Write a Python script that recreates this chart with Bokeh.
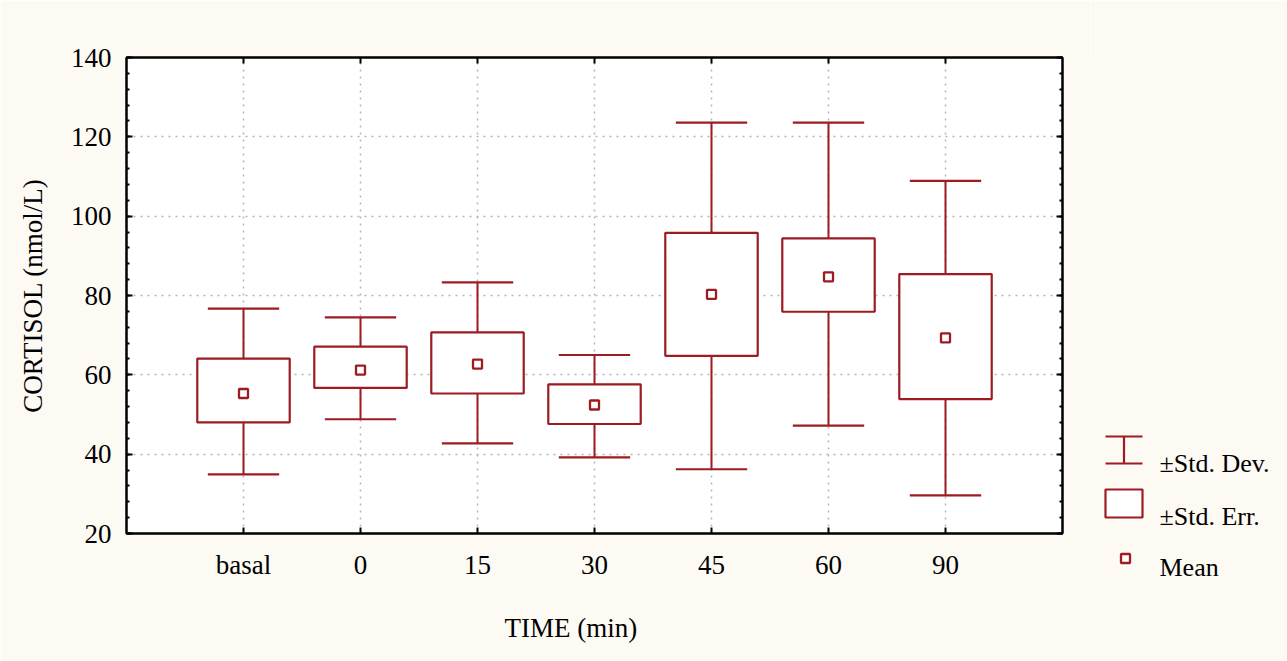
from bokeh.plotting import figure
from bokeh.layouts import row
from bokeh.models import (LinearAxis, FixedTicker, SingleIntervalTicker, Range1d,
                          ColumnDataSource, Grid)
from bokeh.embed import file_html
from bokeh.resources import INLINE
from bokeh.core.properties import value

# Cortisol over time: mean, ±standard error box and ±standard deviation whiskers
categories = ["basal", "0", "15", "30", "45", "60", "90"]
mean = [55.3, 61.2, 62.7, 52.4, 80.3, 84.7, 69.3]
se_low = [48.0, 56.7, 55.3, 47.6, 64.8, 75.9, 53.9]
se_high = [64.1, 67.1, 70.7, 57.6, 95.8, 94.4, 85.4]
sd_low = [34.9, 48.8, 42.7, 39.2, 36.2, 47.2, 29.6]
sd_high = [76.7, 74.5, 83.3, 65.0, 123.6, 123.6, 108.9]
y_ticks_interval = 20
legend_labels = ["±Std. Dev.", "±Std. Err.", "Mean"]

RED = "#9c1c22"
BG = "#fdfaf4"
FONT = "Liberation Serif"
H = 661
TOP = 57

pos = list(range(1, len(categories) + 1))
BOX_W = 0.79
CAP_W = 0.61

src = ColumnDataSource(dict(
    x=pos,
    mean=mean,
    se_low=se_low, se_high=se_high,
    sd_low=sd_low, sd_high=sd_high,
    box_l=[v - BOX_W / 2 for v in pos], box_r=[v + BOX_W / 2 for v in pos],
    cap_l=[v - CAP_W / 2 for v in pos], cap_r=[v + CAP_W / 2 for v in pos],
))

p = figure(width=1090, height=H, x_range=Range1d(0, len(categories) + 1),
           y_range=Range1d(20, 140), output_backend="svg", toolbar_location=None,
           x_axis_type=None, y_axis_type=None, title=None,
           min_border_left=126, min_border_right=28, min_border_top=TOP,
           min_border_bottom=128)
p.background_fill_color = "white"
p.border_fill_color = BG
p.outline_line_color = "black"
p.outline_line_width = 2

xticker = FixedTicker(ticks=pos)
yticker = SingleIntervalTicker(interval=y_ticks_interval, num_minor_ticks=5)


def style_axis(ax, labels=True):
    ax.axis_line_color = "black"
    ax.axis_line_width = 2
    ax.major_tick_in = 6
    ax.major_tick_out = 0
    ax.major_tick_line_width = 2
    ax.minor_tick_in = 3
    ax.minor_tick_out = 0
    ax.minor_tick_line_width = 2
    ax.major_label_text_font = FONT
    ax.major_label_text_font_size = "27px"
    ax.major_label_text_color = "black"
    ax.axis_label_text_font = FONT
    ax.axis_label_text_font_size = "27px"
    ax.axis_label_text_font_style = "normal"
    ax.axis_label_text_color = "black"
    if not labels:
        # tick marks only on the mirrored sides of the frame
        ax.major_label_text_color = None
        ax.major_label_text_font_size = "1px"
        ax.major_label_standoff = 0


yl = LinearAxis(ticker=yticker, axis_label="CORTISOL (nmol/L)")
style_axis(yl)
yl.major_label_standoff = 15
yl.axis_label_standoff = 20
p.add_layout(yl, "left")

yr = LinearAxis(ticker=yticker)
style_axis(yr, labels=False)
p.add_layout(yr, "right")

# the axis title is padded on its right so that it sits left of the frame centre
xb = LinearAxis(ticker=xticker, axis_label="TIME (min)" + "\u00a0" * 7,
                major_label_overrides={v: c for v, c in zip(pos, categories)})
style_axis(xb)
xb.minor_tick_in = 0
xb.major_label_standoff = 16
xb.axis_label_standoff = 30
p.add_layout(xb, "below")

xt = LinearAxis(ticker=xticker)
style_axis(xt, labels=False)
xt.minor_tick_in = 0
p.add_layout(xt, "above")

for dim, tk in ((0, xticker), (1, yticker)):
    g = Grid(dimension=dim, ticker=tk, grid_line_color="#b5b5b5",
             grid_line_dash="2 5", grid_line_width=1.5)
    p.add_layout(g)

# whiskers (±SD) with caps
p.segment(x0="x", y0="sd_low", x1="x", y1="sd_high", source=src,
          line_color=RED, line_width=2)
p.segment(x0="cap_l", y0="sd_high", x1="cap_r", y1="sd_high", source=src,
          line_color=RED, line_width=2.2)
p.segment(x0="cap_l", y0="sd_low", x1="cap_r", y1="sd_low", source=src,
          line_color=RED, line_width=2.2)
# boxes (±SE)
p.quad(left="box_l", right="box_r", bottom="se_low", top="se_high", source=src,
       fill_color="white", line_color=RED, line_width=2.2)
# mean markers
p.scatter(x="x", y="mean", source=src, marker="square", size=9,
          fill_color="white", line_color=RED, line_width=2.3)

# legend panel on the right; its coordinates are pixels counted from the page top
LW = 197
lg = figure(frame_width=LW, frame_height=H - TOP, x_range=Range1d(0, LW),
            y_range=Range1d(0, H - TOP), output_backend="svg",
            toolbar_location=None, title=None,
            x_axis_type=None, y_axis_type=None, min_border=0, min_border_top=TOP)
lg.outline_line_color = None
lg.background_fill_color = BG
lg.border_fill_color = BG


def fy(v):
    return H - v


lg.segment(x0=[15, 15, 33.5], y0=[fy(436), fy(463), fy(436)],
           x1=[52, 52, 33.5], y1=[fy(436), fy(463), fy(463)],
           line_color=RED, line_width=2.2)
lg.quad(left=[15], right=[52], top=[fy(489)], bottom=[fy(517)], fill_color="white",
        line_color=RED, line_width=2.2)
lg.scatter(x=[35], y=[fy(558)], marker="square", size=9, fill_color="white",
           line_color=RED, line_width=2.3)
lg.text(x=[69, 69, 69], y=[fy(463), fy(516), fy(567)], text=legend_labels,
        text_font=value(FONT), text_font_size="26px", text_color="black",
        text_baseline="alphabetic", text_align="left")

layout = row(p, lg)
open("out.html", "w").write(file_html(layout, INLINE))
